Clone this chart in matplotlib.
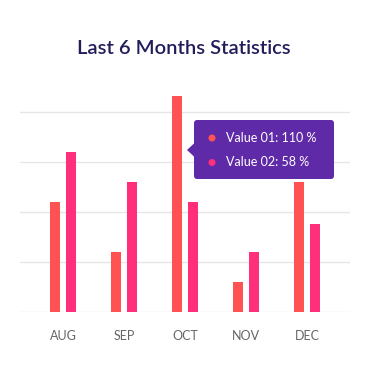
import numpy as np
import matplotlib
matplotlib.use("Agg")
import matplotlib.pyplot as plt
from matplotlib.patches import FancyBboxPatch, Polygon, Ellipse

# data
months = ["AUG", "SEP", "OCT", "NOV", "DEC"]
value_01 = [55, 30, 108, 15, 65]
value_02 = [80, 65, 55, 30, 44]
grid_ticks = [0, 25, 50, 75, 100]
tooltip_lines = ["Value 01: 110 %", "Value 02: 58 %"]

c1 = "#fe5253"
c2 = "#ff2f7c"
W, H = 370, 378

fig = plt.figure(figsize=(W / 100, H / 100), dpi=100)
fig.patch.set_facecolor("white")

# axes placed in pixels: x 20..350, baseline 312, top 82
ax = fig.add_axes([20 / W, 1 - 312.3 / H, 330 / W, 230 / H])
x = np.arange(len(months))
bw = 10 / 61
off = 8 / 61
ax.bar(x - off, value_01, width=bw, color=c1, zorder=3)
ax.bar(x + off, value_02, width=bw, color=c2, zorder=3)

ax.set_xlim(-43 / 61, len(months) - 1 + 43 / 61)
ax.set_ylim(0, 115)
ax.set_yticks(grid_ticks)
ax.yaxis.grid(True, color="#e6e6e6", linewidth=1)
ax.tick_params(axis="y", length=0, labelleft=False)
ax.set_xticks(x)
ax.set_xticklabels(months, fontsize=9, color="#666666", fontfamily="Lato")
ax.tick_params(axis="x", length=0, pad=13)
for s in ax.spines.values():
    s.set_visible(False)

fig.text(184 / W, 1 - 49 / H, "Last 6 Months Statistics", ha="center", va="center",
         fontsize=14.5, color="#211c5a", fontfamily="Lato", fontweight="semibold")

# tooltip
def fx(px):
    return px / W

def fy(py):
    return 1 - py / H

box = FancyBboxPatch((fx(194), fy(179)), fx(334) - fx(194), fy(120) - fy(179),
                     boxstyle="round,pad=0,rounding_size=0.008",
                     transform=fig.transFigure, facecolor="#5f2aa8", edgecolor="none")
fig.add_artist(box)
tri = Polygon([(fx(194.5), fy(143)), (fx(187), fy(150)), (fx(194.5), fy(157))],
              closed=True, transform=fig.transFigure, facecolor="#5f2aa8", edgecolor="none")
fig.add_artist(tri)
for i, (txt, col) in enumerate(zip(tooltip_lines, [c1, c2])):
    yy = 138 + i * 24.5
    fig.add_artist(Ellipse((fx(212), fy(yy)), 7 / W, 7 / H, transform=fig.transFigure,
                           facecolor=col, edgecolor="none"))
    fig.text(fx(226), fy(yy), txt, ha="left", va="center", fontsize=9,
             color="white", fontfamily="Lato")

fig.savefig("out.png", dpi=100)
